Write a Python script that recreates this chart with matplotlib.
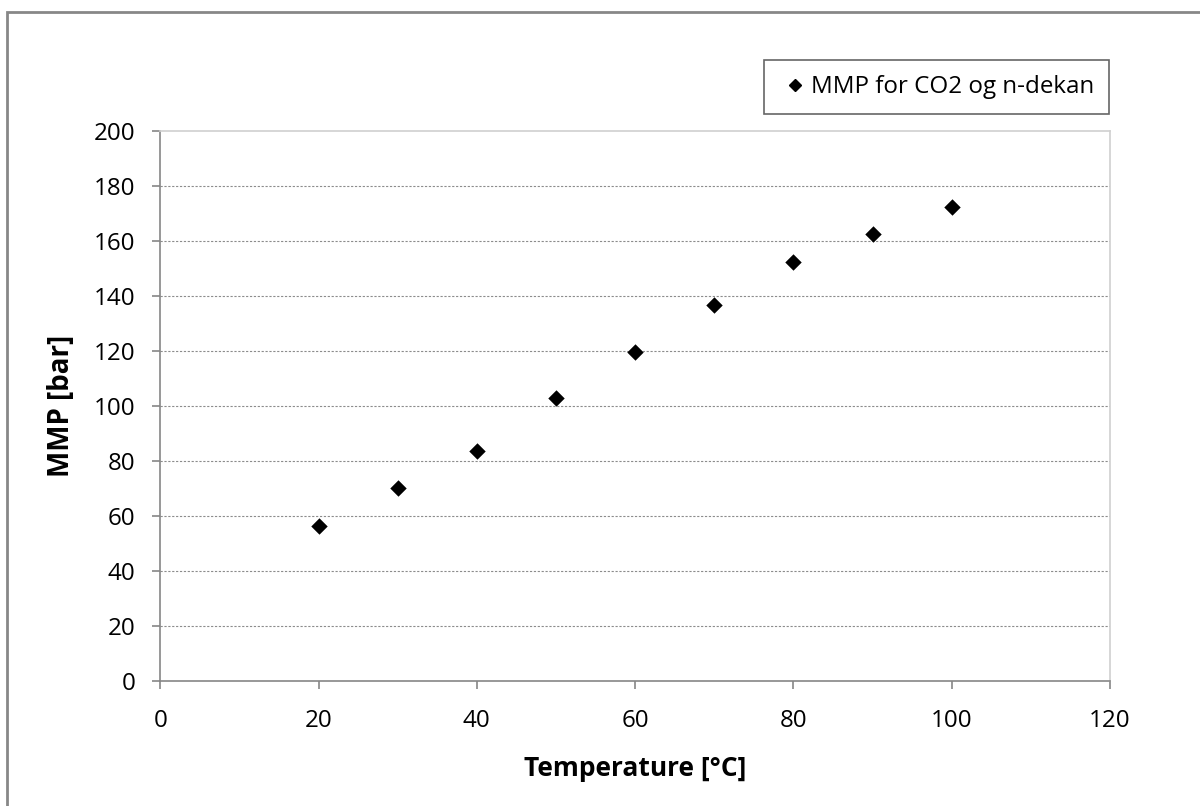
import matplotlib
matplotlib.use("Agg")
import matplotlib.pyplot as plt
from matplotlib.patches import Rectangle
from matplotlib.lines import Line2D

plt.rcParams['font.family'] = ['Open Sans', 'DejaVu Sans']

temperature = [20, 30, 40, 50, 60, 70, 80, 90, 100]
mmp = [56.4, 70.1, 83.7, 102.8, 119.6, 136.6, 152.3, 162.4, 172.4]
x_ticks = [0, 20, 40, 60, 80, 100, 120]
y_ticks = [0, 20, 40, 60, 80, 100, 120, 140, 160, 180, 200]
series_label = "MMP for CO2 og n-dekan"
x_label = "Temperature [°C]"
y_label = "MMP [bar]"

W, H = 1200, 806
fig = plt.figure(figsize=(W / 100, H / 100), dpi=100)

# outer chart frame
fig.patches.append(Rectangle((7 / W, -0.05), 1.2, 1 - 12 / H + 0.05,
                             transform=fig.transFigure, fill=False,
                             edgecolor='#878787', linewidth=2))

ax = fig.add_axes([160.3 / W, 1 - 681 / H, (1110 - 160.3) / W, (681 - 131) / H])
ax.scatter(temperature, mmp, marker='D', s=70, color='black', zorder=3,
           linewidths=0)

ax.set_xlim(0, 120)
ax.set_ylim(0, 200)
ax.set_xticks(x_ticks)
ax.set_yticks(y_ticks)
ax.tick_params(axis='both', direction='out', length=6, width=1.2,
               color='#868686', labelsize=17.4)
ax.tick_params(axis='y', pad=12)
ax.tick_params(axis='x', pad=14)

for v in y_ticks[1:-1]:
    ax.axhline(v, color='#8c8c8c', linewidth=0.8, linestyle=(0, (2, 1.5)),
               zorder=1)

for s in ['left', 'bottom']:
    ax.spines[s].set_color('#868686')
    ax.spines[s].set_linewidth(1.2)
for s in ['top', 'right']:
    ax.spines[s].set_color('#d0d0d0')
    ax.spines[s].set_linewidth(1.2)

ax.set_xlabel(x_label, fontsize=19, fontweight='bold', labelpad=16)
ax.set_ylabel(y_label, fontsize=20, fontweight='bold', labelpad=13)

handle = Line2D([], [], marker='D', linestyle='none', color='black',
                markersize=6.5)
leg = fig.legend([handle], [series_label], loc='upper right',
                 bbox_to_anchor=(1109 / W, 1 - 60 / H), fontsize=17.4,
                 frameon=True, fancybox=False, handletextpad=0.0,
                 handlelength=1.3, borderpad=0.62, borderaxespad=0)
leg.get_frame().set_edgecolor('#404040')
leg.get_frame().set_linewidth(1.2)

fig.savefig("out.png", dpi=100)
